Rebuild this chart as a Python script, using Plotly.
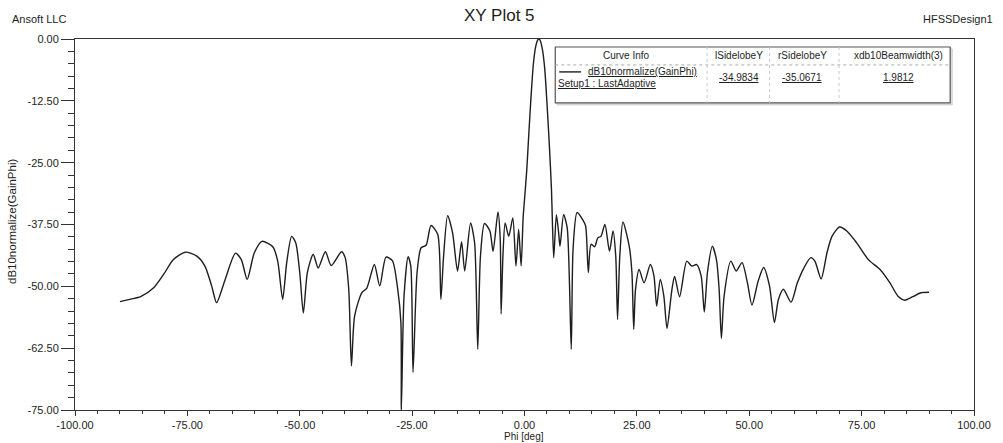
import plotly.graph_objects as go

# Normalized gain pattern, Phi cut (deg vs dB)
phi_deg = [
    -90.0, -87.6, -85.4, -82.5, -80.3, -78.1, -75.5, -72.9, -71.1, -69.6,
    -68.5, -66.7, -64.3, -63.0, -61.7, -60.1, -58.4, -56.0, -54.9, -53.8,
    -52.9, -51.8, -50.9, -50.0, -49.2, -48.3, -47.0, -45.9, -44.3, -43.0,
    -40.7, -39.9, -39.1, -38.5, -37.8, -36.2, -35.1, -33.4, -32.2, -30.8,
    -29.4, -28.2, -27.5, -27.4, -26.8, -25.9, -25.3, -24.8, -23.9, -23.0,
    -21.9, -20.8, -19.3, -18.6, -18.0, -17.1, -16.0, -14.9, -14.0, -13.3,
    -12.0, -11.1, -10.4, -9.8, -8.9, -7.7, -7.0, -5.9, -5.4, -5.2,
    -4.8, -4.3, -3.5, -2.6, -1.9, -1.3, -0.75, -0.3, 0.0, 0.5,
    1.0, 1.5, 2.0, 2.5, 3.0, 3.2, 3.5, 4.0, 4.5, 5.0,
    5.5, 6.0, 6.2, 6.5, 7.1, 7.6, 7.9, 8.7, 9.5, 10.4,
    10.8, 11.7, 13.0, 13.6, 14.2, 14.8, 15.6, 16.3, 17.0, 17.9,
    18.9, 19.7, 20.3, 20.7, 21.2, 21.9, 23.3, 23.9, 24.3, 24.7,
    25.5, 26.6, 28.0, 28.8, 29.4, 30.2, 31.0, 31.7, 32.8, 33.4,
    34.5, 36.1, 37.2, 38.3, 39.3, 40.0, 40.7, 41.8, 42.7, 43.3,
    43.8, 44.4, 45.9, 47.1, 48.4, 49.6, 50.6, 52.0, 53.2, 54.5,
    55.6, 56.5, 57.6, 59.3, 60.7, 62.2, 63.7, 64.6, 66.0, 67.3,
    68.4, 70.1, 71.7, 73.9, 76.5, 79.1, 81.3, 83.1, 84.6, 86.4,
    88.2, 90.0,
]
gain_db = [
    -53.1, -52.6, -52.1, -50.3, -47.6, -44.6, -43.1, -43.9, -45.9, -49.9,
    -53.3, -48.9, -43.3, -44.6, -48.6, -43.2, -40.9, -42.0, -44.9, -52.6,
    -45.2, -39.9, -41.2, -47.2, -55.4, -47.2, -43.5, -46.3, -43.0, -45.8,
    -43.0, -44.2, -50.6, -66.1, -56.0, -51.3, -50.4, -45.6, -49.9, -44.1,
    -44.8, -50.6, -57.3, -75.0, -52.0, -44.0, -45.9, -67.4, -47.2, -42.2,
    -41.7, -37.7, -39.5, -52.6, -43.9, -35.7, -39.2, -46.9, -41.0, -46.9,
    -37.2, -41.2, -62.7, -43.9, -37.3, -38.8, -42.9, -34.9834, -40.5, -55.6,
    -43.9, -37.2, -39.9, -36.2, -45.9, -38.5, -45.9, -36.0, -32.5, -26.5,
    -18.5, -11.0, -4.8, -1.5, -0.1, 0.0, -0.3, -2.2, -6.0, -13.0,
    -21.0, -30.4, -36.8, -44.2, -35.5, -39.2, -41.9, -35.5, -38.2, -62.7,
    -42.5, -35.0671, -36.6, -37.8, -47.2, -41.5, -42.0, -40.2, -39.9, -37.5,
    -42.9, -38.8, -43.9, -56.7, -43.9, -37.0, -41.9, -47.2, -58.7, -50.6,
    -46.6, -49.3, -45.6, -47.9, -54.0, -48.6, -52.0, -58.5, -50.6, -48.0,
    -52.1, -44.9, -45.9, -45.6, -47.9, -55.2, -47.2, -41.9, -44.6, -50.6,
    -60.5, -52.0, -44.9, -46.9, -45.2, -49.3, -53.8, -48.9, -46.2, -49.9,
    -57.3, -52.6, -50.6, -53.2, -49.3, -46.2, -44.2, -44.9, -48.5, -43.2,
    -39.9, -38.0, -38.8, -41.2, -44.6, -46.6, -49.3, -52.0, -52.8, -52.1,
    -51.3, -51.2,
]

# Axis tick positions
x_ticks = [-100, -75, -50, -25, 0, 25, 50, 75, 100]
y_ticks = [0, -12.5, -25, -37.5, -50, -62.5, -75]

# Curve info table values
curve_name = "dB10normalize(GainPhi)"
solution_name = "Setup1 : LastAdaptive"
info_headers = ["Curve Info", "lSidelobeY", "rSidelobeY", "xdb10Beamwidth(3)"]
l_sidelobe_y = -34.9834
r_sidelobe_y = -35.0671
beamwidth_3db = 1.9812

W, H = 1003, 443
ML, MR, MT, MB = 75, 22, 39, 32
FONT = "Liberation Sans, Arial, sans-serif"
INK = "#1e1e1e"


def fx(px):
    return (px - ML) / (W - ML - MR)


def fy(py):
    return (H - MB - py) / (H - MT - MB)


def two_dec(v):
    # plain ASCII hyphen for negatives
    return f"{v:.2f}"


fig = go.Figure()
fig.add_trace(go.Scatter(
    x=phi_deg, y=gain_db, mode="lines",
    line=dict(color=INK, width=1.4, shape="spline", smoothing=0.7),
    showlegend=False, hoverinfo="x+y",
))

axis_common = dict(
    showline=True, linecolor="#333", linewidth=1, mirror=True,
    showgrid=False, zeroline=False, ticks="outside", tickcolor="#333",
    tickfont=dict(family=FONT, size=11, color=INK),
)
fig.update_xaxes(
    range=[-100, 100], tickvals=x_ticks, ticktext=[two_dec(v) for v in x_ticks],
    ticklen=5, **axis_common,
    minor=dict(dtick=5, tick0=-100, ticklen=3, ticks="outside", tickcolor="#333"),
)
fig.update_yaxes(
    range=[-75, 0], tickvals=y_ticks, ticktext=[two_dec(v) for v in y_ticks],
    ticklen=13, **axis_common,
    minor=dict(dtick=2.5, tick0=0, ticklen=6, ticks="outside", tickcolor="#333"),
)

annotations = [
    dict(text="XY Plot 5", x=fx(503), y=fy(15), font=dict(size=17)),
    dict(text="Ansoft LLC", x=fx(39), y=fy(19), font=dict(size=11)),
    dict(text="HFSSDesign1", x=fx(965), y=fy(19), font=dict(size=11)),
    dict(text="Phi [deg]", x=fx(527), y=fy(438), font=dict(size=10)),
    dict(text="dB10normalize(GainPhi)", x=fx(11), y=fy(222), textangle=-90,
         font=dict(size=11.5)),
]

# Curve info table
box = dict(x0=559, x1=957, y0=47, y1=103)
shapes = [
    dict(type="rect", xref="paper", yref="paper",
         x0=fx(box["x0"] + 2), x1=fx(box["x1"] + 2),
         y0=fy(box["y0"] + 2), y1=fy(box["y1"] + 2),
         line=dict(color="#c8c8c8", width=1), fillcolor="#e6e6e6"),
    dict(type="rect", xref="paper", yref="paper",
         x0=fx(box["x0"]), x1=fx(box["x1"]), y0=fy(box["y0"]), y1=fy(box["y1"]),
         line=dict(color="#555", width=1.2), fillcolor="white"),
    dict(type="line", xref="paper", yref="paper",
         x0=fx(box["x0"]), x1=fx(box["x1"]), y0=fy(65), y1=fy(65),
         line=dict(color="#aaa", width=1, dash="dot")),
    dict(type="line", xref="paper", yref="paper",
         x0=fx(563), x1=fx(585), y0=fy(72), y1=fy(72),
         line=dict(color=INK, width=1.4)),
]
for sep in (712, 775, 845):
    shapes.append(dict(type="line", xref="paper", yref="paper",
                       x0=fx(sep), x1=fx(sep), y0=fy(box["y0"]), y1=fy(box["y1"]),
                       line=dict(color="#c8c8c8", width=1, dash="dot")))

col_x = [631, 744, 808, 905]
for cx, head in zip(col_x, info_headers):
    annotations.append(dict(text=head, x=fx(cx), y=fy(56), font=dict(size=10)))
annotations.append(dict(text=f"<u>{curve_name}</u>", x=fx(590), y=fy(72),
                        xanchor="left", font=dict(size=10)))
annotations.append(dict(text=f"<u>{solution_name}</u>", x=fx(560), y=fy(84),
                        xanchor="left", font=dict(size=10)))
for cx, val in zip(col_x[1:], [f"{l_sidelobe_y:.4f}", f"{r_sidelobe_y:.4f}",
                               f"{beamwidth_3db:.4f}"]):
    annotations.append(dict(text=f"<u>{val}</u>", x=fx(cx), y=fy(78),
                            font=dict(size=10)))

for a in annotations:
    a.setdefault("xref", "paper")
    a.setdefault("yref", "paper")
    a.setdefault("showarrow", False)
    a.setdefault("xanchor", "center")
    a["yanchor"] = "middle"
    a["font"] = dict(family=FONT, color=INK, **a["font"])

fig.update_layout(
    width=W, height=H,
    margin=dict(l=ML, r=MR, t=MT, b=MB, pad=0),
    paper_bgcolor="white", plot_bgcolor="white",
    annotations=annotations, shapes=shapes,
    font=dict(family=FONT, color=INK),
)

fig.write_html("out.html")
